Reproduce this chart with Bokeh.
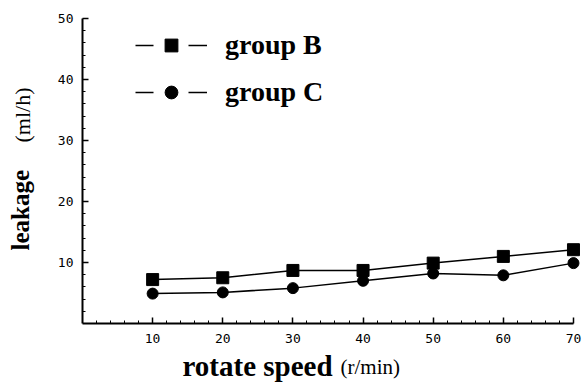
from bokeh.plotting import figure
from bokeh.models import Range1d, FixedTicker, Label, Legend, LegendItem, ColumnDataSource
from bokeh.embed import file_html
from bokeh.resources import INLINE

# data
speed = [10, 20, 30, 40, 50, 60, 70]
group_b = [7.2, 7.5, 8.7, 8.7, 9.9, 11.0, 12.1]
group_c = [4.9, 5.1, 5.8, 7.0, 8.2, 7.9, 9.9]
x_ticks = [10, 20, 30, 40, 50, 60, 70]
y_ticks = [10, 20, 30, 40, 50]

# The frame fills the whole canvas so that the axis titles are not clipped;
# the axes are pinned at data 0 and limited with bounds.
p = figure(width=583, height=382, output_backend="svg", toolbar_location=None,
           x_range=Range1d(-11.69, 71.43), y_range=Range1d(-9.67, 52.95),
           min_border=0)
p.outline_line_color = None
p.xgrid.visible = False
p.ygrid.visible = False

p.xaxis.ticker = FixedTicker(ticks=x_ticks, minor_ticks=list(range(2, 70, 2)))
p.yaxis.ticker = FixedTicker(ticks=y_ticks, minor_ticks=list(range(2, 50, 2)))
p.xaxis.fixed_location = 0
p.yaxis.fixed_location = 0
p.xaxis.bounds = (0, 70)
p.yaxis.bounds = (0, 50)
for ax in (p.xaxis, p.yaxis):
    ax.axis_line_width = 2
    ax.axis_line_color = "black"
    ax.major_tick_in = 6
    ax.major_tick_out = 0
    ax.minor_tick_in = 3
    ax.minor_tick_out = 0
    ax.major_tick_line_width = 1.5
    ax.major_tick_line_color = "black"
    ax.minor_tick_line_color = "black"
    ax.major_label_text_font = "DejaVu Sans Mono"
    ax.major_label_text_font_size = "13px"
    ax.major_label_text_color = "black"
p.yaxis.major_label_standoff = 9
p.xaxis.major_label_standoff = 10

src = ColumnDataSource(dict(x=speed, b=group_b, c=group_c))
p.line("x", "b", source=src, line_color="black", line_width=1.5)
p.scatter("x", "b", source=src, marker="square", size=12, color="black")
p.line("x", "c", source=src, line_color="black", line_width=1.5)
p.scatter("x", "c", source=src, marker="circle", size=11, color="black")

# legend-only renderers (NaN data, nothing drawn in the plot)
nan = float("nan")
proxy = ColumnDataSource(dict(x=[nan], y=[nan]))
lb = p.line("x", "y", source=proxy, line_color="black", line_width=1.5, line_dash="18 35 19")
mb = p.scatter("x", "y", source=proxy, marker="square", color="black")
lc = p.line("x", "y", source=proxy, line_color="black", line_width=1.5, line_dash="18 35 19")
mc = p.scatter("x", "y", source=proxy, marker="circle", color="black")

legend = Legend(items=[LegendItem(label="group B", renderers=[lb, mb]),
                       LegendItem(label="group C", renderers=[lc, mc])],
                location=(135, 274), glyph_width=72, glyph_height=32, label_height=32,
                spacing=15, padding=0, margin=0, label_standoff=18,
                border_line_color=None, background_fill_alpha=0,
                label_text_font="Liberation Serif", label_text_font_style="bold",
                label_text_font_size="28px", label_text_color="black")
p.add_layout(legend, "center")

# axis titles (screen units from the canvas' bottom-left)
p.add_layout(Label(x=182, y=16.8, x_units="screen", y_units="screen", text="rotate speed",
                   text_font="Liberation Serif", text_font_style="bold", text_font_size="29px",
                   text_color="black", text_baseline="middle"))
p.add_layout(Label(x=340, y=15.1, x_units="screen", y_units="screen", text="(r/min)",
                   text_font="Liberation Serif", text_font_size="21px", text_color="black",
                   text_baseline="middle"))
p.add_layout(Label(x=19.6, y=132, x_units="screen", y_units="screen", text="leakage", angle=1.5708,
                   text_font="Liberation Serif", text_font_style="bold", text_font_size="25px",
                   text_color="black", text_baseline="middle"))
p.add_layout(Label(x=21.6, y=240, x_units="screen", y_units="screen", text="(ml/h)", angle=1.5708,
                   text_font="Liberation Serif", text_font_size="22px", text_color="black",
                   text_baseline="middle"))

open("out.html", "w").write(file_html(p, INLINE))
